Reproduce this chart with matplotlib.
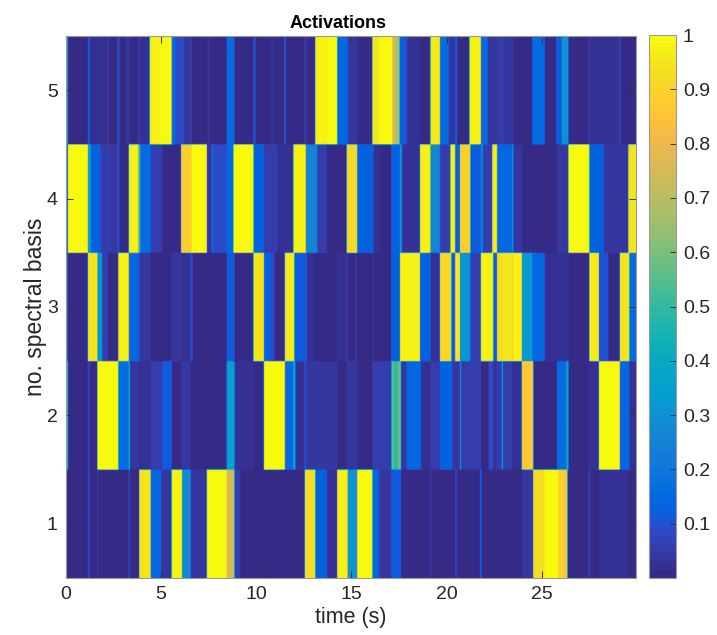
import matplotlib
matplotlib.use("Agg")
import numpy as np
import matplotlib.pyplot as plt
from matplotlib.colors import ListedColormap

plt.rcParams["font.family"] = ["Liberation Sans", "DejaVu Sans"]

t_end = 29.95

# start of each constant stretch (s) and its activation
row1_t = [0, 1.14, 1.21, 1.65, 1.70, 3.27, 3.33, 3.82, 4.45, 4.99, 5.52, 6.08, 6.55, 7.39, 8.44, 8.83, 9.14,
          12.52, 13.08, 13.66, 14.22, 14.78, 15.30, 16.09, 16.44, 17.06, 17.58, 19.09, 19.16, 19.65, 20.44,
          20.52, 21.22, 21.75, 21.84, 23.94, 24.52, 25.11, 25.81, 26.13, 26.34, 27.44, 27.53, 27.97, 29.54]
row1_v = [.008, .08, .01, .05, .01, .12, .01, .94, .15, .035, .98, .28, .04, 1, .75, .05, .008,
          .93, .14, .03, .97, .3, 1, .15, .035, .12, .008, .04, .008, .01, .06,
          .008, .01, .12, .008, .04, .93, 1, .9, .85, .008, .06, .008, .02, .01]

row2_t = [0, .07, 1.14, 1.21, 1.65, 2.75, 3.27, 3.33, 3.85, 4.41, 5.03, 5.55, 6.02, 6.55, 6.62, 8.44, 8.83, 9.84,
          10.37, 11.50, 11.94, 12.03, 12.50, 12.61, 14.22, 14.71, 15.30, 16.06, 17.06, 17.20, 17.41, 17.58, 17.90,
          18.63, 19.12, 19.65, 20.26, 20.70, 20.75, 21.22, 21.80, 22.19, 22.45, 22.63, 22.89, 22.94, 23.41, 23.94,
          24.52, 25.78, 26.30, 26.39, 27.44, 27.97, 29.07, 29.60]
row2_v = [.55, .01, .06, .01, 1, .17, .5, .04, .02, .05, .12, .01, .04, .01, .01, .35, .03, .008,
          1, .17, .4, .03, .08, .035, .01, .04, .01, .055, .58, .5, .58, .04,
          .15, .03, .05, .14, .035, .35, .05, .055, .01, .08, .03, .05, .4, .055, .02,
          .87, .008, .17, .4, .01, .02, 1, .15, .03]

row3_t = [0, .07, 1.14, 1.65, 1.88, 2.19, 2.75, 3.27, 3.85, 4.45, 5.55, 6.02, 6.55, 6.62, 7.39, 8.44, 8.83, 9.84,
          10.37, 10.72, 10.93, 11.50, 12.0, 12.61, 13.0, 14.22, 14.71, 14.78, 15.18, 15.24, 16.06, 16.15, 17.06,
          17.55, 18.60, 19.12, 19.65, 20.21, 20.44, 20.70, 21.22, 21.80, 22.42, 22.63, 22.90, 23.41, 23.50, 23.94,
          24.46, 25.13, 26.39, 27.49, 27.97, 28.50, 29.07, 29.60]
row3_v = [.12, .008, .95, .3, .06, .01, .97, .15, .04, .01, .035, .02, .1, .01, .008, .12, .008,
          .95, .14, .08, .01, .96, .12, .03, .01, .02, .06, .01, .08, .01, .04, .01,
          .14, .98, .14, .03, .92, .12, .96, .3, .05, .97, .12, .93, .95, .88, .98,
          .32, .15, .03, .008, .96, .1, .008, .95, .17]

row4_t = [0, .07, 1.14, 1.26, 1.79, 2.31, 2.70, 2.78, 3.27, 3.80, 3.87, 4.41, 5.03, 6.02, 6.60, 7.39, 7.65, 7.73,
          8.41, 8.79, 9.84, 10.37, 11.07, 11.94, 12.56, 13.17, 13.66, 14.71, 15.30, 16.15, 16.50, 17.06, 17.55,
          17.63, 18.56, 19.12, 19.65, 20.17, 20.44, 20.70, 21.22, 21.80, 21.89, 22.36, 22.63, 23.41, 23.50,
          23.94, 25.78, 26.39, 27.49, 28.23, 29.54]
row4_v = [.06, 1, .35, .14, .06, .04, .1, .01, .97, .5, .17, .05, .01, .88, 1, .035, .17,
          .08, .15, 1, .14, .055, .03, .97, .25, .06, .01, .92, .13, .03, .01, .14,
          .3, .03, .97, .25, .06, .97, .12, .9, .12, .25, .06, .97, .15, .35,
          .04, .008, .035, 1, .13, .04, .95]

row5_t = [0, .09, 1.12, 1.21, 2.14, 2.22, 2.70, 2.78, 3.15, 3.31, 3.80, 3.89, 4.36, 4.97, 5.52, 5.73, 6.20, 6.51,
          6.60, 7.44, 7.51, 8.41, 8.83, 9.81, 9.91, 10.72, 10.93, 11.42, 11.52, 12.50, 12.61, 13.06, 13.66, 14.22,
          14.78, 15.30, 16.06, 16.41, 17.11, 17.29, 17.46, 17.55, 17.90, 18.60, 19.12, 19.65, 20.09, 20.44, 20.52,
          21.19, 21.80, 22.15, 22.71, 22.98, 23.50, 23.94, 24.46, 25.13, 25.74, 26.04, 26.39, 27.44, 27.53, 28.50,
          29.02, 29.11]
row5_v = [.35, .008, .12, .02, .04, .01, .1, .01, .035, .01, .05, .02, .97, 1, .17, .08, .04, .08,
          .01, .04, .01, .17, .008, .12, .008, .03, .01, .1, .01, .04, .01, .97, 1, .15,
          .04, .01, .95, 1, .75, .68, .5, .12, .03, .01, .96, .17, .04, .12,
          .008, .98, .17, .04, .06, .04, .01, .008, .17, .008, .12, .3, .008, .05, .02, .03,
          .06, .01]

rows = [1, 2, 3, 4, 5]
row_times = [row1_t, row2_t, row3_t, row4_t, row5_t]
row_values = [row1_v, row2_v, row3_v, row4_v, row5_v]

xticks = [0, 5, 10, 15, 20, 25]
cbar_ticks = [.1, .2, .3, .4, .5, .6, .7, .8, .9, 1]
cbar_labels = ["0.1", "0.2", "0.3", "0.4", "0.5", "0.6", "0.7", "0.8", "0.9", "1"]

# old matlab parula, 64 levels
parula = [
    [.2081, .1663, .5292], [.2116, .1898, .5777], [.2123, .2138, .6270], [.2081, .2386, .6771],
    [.1959, .2645, .7279], [.1707, .2919, .7792], [.1253, .3242, .8303], [.0591, .3598, .8683],
    [.0117, .3875, .8820], [.0060, .4086, .8828], [.0165, .4266, .8786], [.0329, .4430, .8720],
    [.0498, .4586, .8641], [.0629, .4737, .8554], [.0723, .4887, .8467], [.0779, .5040, .8384],
    [.0793, .5200, .8312], [.0749, .5375, .8263], [.0641, .5570, .8240], [.0488, .5772, .8228],
    [.0343, .5966, .8199], [.0265, .6137, .8135], [.0239, .6287, .8038], [.0231, .6418, .7913],
    [.0228, .6535, .7768], [.0267, .6642, .7607], [.0384, .6743, .7436], [.0590, .6838, .7254],
    [.0843, .6928, .7062], [.1133, .7015, .6859], [.1453, .7098, .6646], [.1801, .7177, .6424],
    [.2178, .7250, .6193], [.2586, .7317, .5954], [.3022, .7376, .5712], [.3482, .7424, .5473],
    [.3953, .7459, .5244], [.4420, .7481, .5033], [.4871, .7491, .4840], [.5300, .7491, .4661],
    [.5709, .7485, .4494], [.6099, .7473, .4337], [.6473, .7456, .4188], [.6834, .7435, .4044],
    [.7184, .7411, .3905], [.7525, .7384, .3768], [.7858, .7356, .3633], [.8185, .7327, .3498],
    [.8507, .7299, .3360], [.8824, .7274, .3217], [.9139, .7258, .3063], [.9450, .7261, .2886],
    [.9739, .7314, .2666], [.9938, .7455, .2403], [.9990, .7653, .2164], [.9955, .7861, .1967],
    [.9880, .8066, .1794], [.9789, .8271, .1633], [.9697, .8481, .1475], [.9626, .8705, .1309],
    [.9589, .8949, .1132], [.9598, .9218, .0948], [.9661, .9514, .0755], [.9763, .9831, .0538],
]
cmap = ListedColormap(parula)

# sample the stretches on a frame grid so the image can be smoothed like the original
frames = np.arange(0, t_end, 0.05)
activations = []
for times, values in zip(row_times, row_values):
    idx = np.searchsorted(times, frames, side="right") - 1
    activations.append(np.array(values)[idx])
activations = np.repeat(np.array(activations), 100, axis=0)

W, H = 717, 635
fig = plt.figure(figsize=(W / 100, H / 100), dpi=100)
ax = fig.add_axes([66 / W, 1 - 578 / H, 570 / W, 542 / H])
cax = fig.add_axes([649 / W, 1 - 578 / H, 27 / W, 543 / H])

im = ax.imshow(activations, cmap=cmap, vmin=0, vmax=1, origin="lower", aspect="auto",
               extent=(0, t_end, .5, 5.5), interpolation="gaussian", interpolation_stage="data")

ax.set_xticks(xticks)
ax.set_yticks(rows)
ax.tick_params(direction="in", top=True, right=True, length=5, width=.7, color="#333333",
               labelsize=14, labelcolor="#262626", pad=6)
ax.set_xlabel("time (s)", fontsize=15.5, color="#262626", labelpad=3)
ax.set_ylabel("no. spectral basis", fontsize=16.5, color="#262626", labelpad=0)
ax.set_title("Activations", fontsize=13, fontweight="bold", color="black", pad=6, x=.477)

cb = fig.colorbar(im, cax=cax)
cb.set_ticks(cbar_ticks)
cb.set_ticklabels(cbar_labels)
cb.ax.tick_params(direction="in", length=4, width=.7, color="#333333", labelsize=14,
                  labelcolor="#262626", pad=5)

for a in [ax, cax]:
    for s in a.spines.values():
        s.set_color("#9a9a9a")
        s.set_linewidth(.8)
cb.outline.set_edgecolor("#9a9a9a")
cb.outline.set_linewidth(.8)

fig.savefig("out.png", dpi=100)
